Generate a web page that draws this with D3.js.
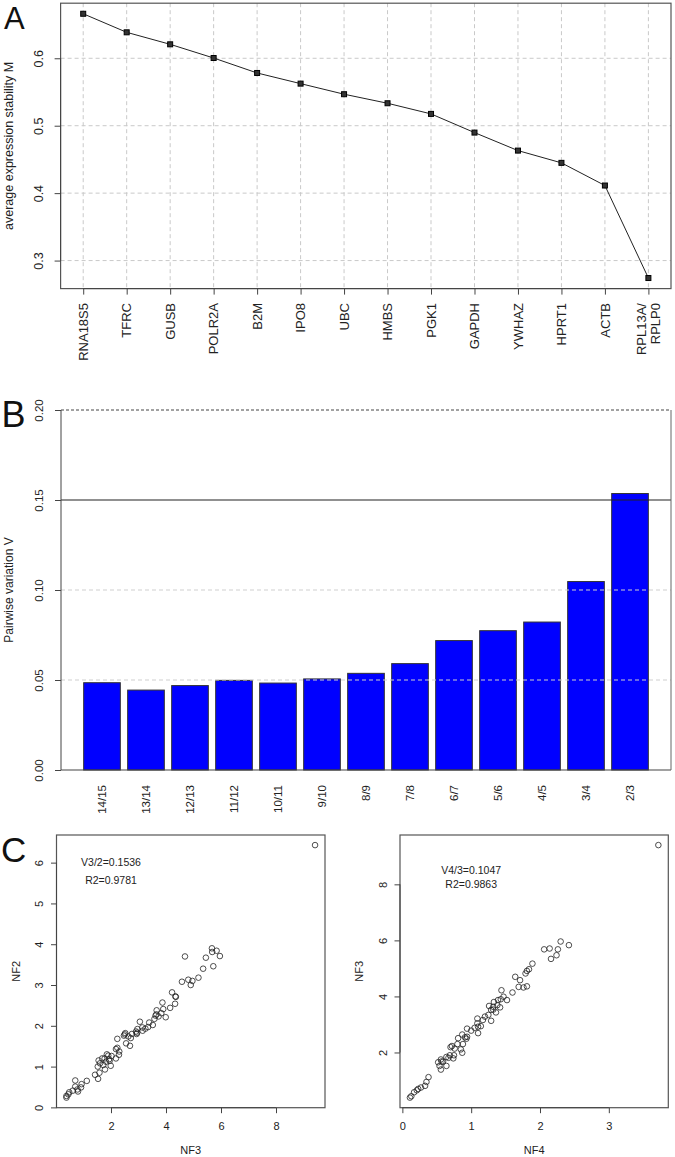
<!DOCTYPE html>
<html><head><meta charset="utf-8">
<script src="https://cdn.jsdelivr.net/npm/d3@7"></script>
<style>
html,body{margin:0;padding:0;background:#fff;}
svg{display:block;font-family:"Liberation Sans",Arial,sans-serif;}
</style></head>
<body>
<svg id="chart" width="675" height="1157"></svg>
<script>
// ---------- DATA ----------
const genes = [["RNA18S5"],["TFRC"],["GUSB"],["POLR2A"],["B2M"],["IPO8"],["UBC"],["HMBS"],["PGK1"],["GAPDH"],["YWHAZ"],["HPRT1"],["ACTB"],["RPL13A/","RPLP0"]];
const stabilityM = [0.666,0.6385,0.6207,0.6004,0.5782,0.5624,0.5467,0.5333,0.5175,0.4898,0.4631,0.4449,0.4113,0.2741];
const aTicks = [0.3,0.4,0.5,0.6];

const pairs = ["14/15","13/14","12/13","11/12","10/11","9/10","8/9","7/8","6/7","5/6","4/5","3/4","2/3"];
const pairwiseV = [0.0485,0.0444,0.0469,0.0498,0.0483,0.0506,0.0537,0.0591,0.0719,0.0774,0.0822,0.1047,0.1536];
const bTicks = [0,0.05,0.10,0.15,0.20];
const bTickLabels = ["0.00","0.05","0.10","0.15","0.20"];
const bCutoff = 0.15;

// NF3 (x) vs NF2 (y)
const nf3nf2 = [[9.42,6.43],[4.69,3.70],[5.67,3.90],[5.68,3.81],[5.84,3.84],[5.96,3.71],[5.45,3.67],[5.72,3.46],[5.35,3.40],[5.18,3.18],[4.58,3.08],[4.81,3.13],[4.96,3.10],[4.90,3.00],[4.22,2.82],[4.34,2.72],[4.36,2.71],[4.33,2.54],[4.15,2.44],[3.87,2.57],[3.90,2.41],[3.99,2.21],[3.83,2.31],[3.66,2.38],[3.62,2.25],[3.65,2.28],[3.58,2.17],[3.73,2.23],[3.39,2.08],[3.52,2.02],[3.35,1.97],[3.25,1.93],[3.05,2.10],[3.14,1.96],[3.15,1.88],[2.96,1.92],[2.91,1.86],[2.93,1.80],[2.95,1.83],[2.76,1.80],[2.72,1.70],[2.69,1.51],[2.55,1.57],[2.52,1.82],[2.50,1.79],[2.47,1.76],[2.63,1.74],[2.23,1.68],[2.18,1.43],[2.23,1.46],[2.30,1.37],[2.29,1.29],[2.18,1.20],[2.02,1.26],[1.99,1.02],[1.93,1.18],[1.95,1.14],[1.90,1.27],[1.85,1.30],[1.82,1.12],[1.77,1.20],[1.68,1.20],[1.72,1.04],[1.78,0.93],[1.60,1.08],[1.55,1.15],[1.52,1.00],[1.58,0.85],[1.53,0.70],[1.42,0.80],[1.12,0.65],[0.93,0.57],[0.91,0.49],[0.78,0.44],[0.70,0.66],[0.70,0.51],[0.80,0.39],[0.61,0.41],[0.48,0.37],[0.45,0.32],[0.38,0.28],[0.38,0.24]];
const cLeftXTicks = [2,4,6,8];
const cLeftYTicks = [0,1,2,3,4,5,6];
const cLeftText = ["V3/2=0.1536","R2=0.9781"];

// NF4 (x) vs NF3 (y)
const nf4nf3 = [[3.72,9.40],[2.42,5.83],[2.30,5.96],[2.26,5.68],[2.24,5.47],[2.16,5.34],[2.14,5.71],[2.06,5.68],[1.89,5.17],[1.84,4.97],[1.81,4.91],[1.79,4.82],[1.81,4.36],[1.76,4.32],[1.69,4.34],[1.71,4.58],[1.64,4.70],[1.60,4.14],[1.52,3.87],[1.47,3.99],[1.44,4.22],[1.43,3.90],[1.39,3.87],[1.42,3.61],[1.38,3.69],[1.36,3.43],[1.33,3.80],[1.32,3.63],[1.32,3.53],[1.29,3.52],[1.26,3.66],[1.29,3.13],[1.25,3.34],[1.20,3.28],[1.17,3.16],[1.14,2.94],[1.10,2.92],[1.09,3.21],[1.09,3.04],[1.10,2.69],[1.05,2.88],[1.00,2.78],[0.94,2.85],[0.94,2.56],[0.93,2.49],[0.91,2.54],[0.88,2.30],[0.87,2.64],[0.87,1.99],[0.85,2.11],[0.81,2.51],[0.80,2.30],[0.76,2.14],[0.72,2.23],[0.70,2.19],[0.75,1.90],[0.74,1.79],[0.69,1.90],[0.67,1.81],[0.64,1.84],[0.64,1.52],[0.59,1.67],[0.57,1.68],[0.56,1.75],[0.52,1.65],[0.54,1.52],[0.56,1.39],[0.38,1.12],[0.35,0.95],[0.33,0.81],[0.27,0.75],[0.23,0.70],[0.21,0.65],[0.17,0.58],[0.13,0.44],[0.11,0.39]];
const cRightXTicks = [0,1,2,3];
const cRightYTicks = [2,4,6,8];
const cRightText = ["V4/3=0.1047","R2=0.9863"];

// ---------- HELPERS ----------
const svg = d3.select("#chart");
svg.append("rect").attr("width",675).attr("height",1157).attr("fill","#fff");
const FONT = '"Liberation Sans",Arial,sans-serif';
function padDomain(ext){ const r = ext[1]-ext[0]; return [ext[0]-0.04*r, ext[1]+0.04*r]; }

function yAxisRotated(g, scale, ticks, labels, x0, offset, size, tickLen){
  const ax = d3.axisLeft(scale).tickValues(ticks).tickSize(tickLen).tickSizeOuter(0)
    .tickFormat((d,i)=> labels ? labels[i] : String(d));
  const a = g.append("g").attr("transform",`translate(${x0},0)`).call(ax);
  a.select(".domain").remove();
  a.selectAll(".tick line").attr("stroke","#444");
  a.selectAll(".tick text").attr("x",0).attr("y",0).attr("dy",null)
    .attr("text-anchor","middle").attr("fill","#222")
    .style("font-size",size+"px").style("font-family",FONT)
    .attr("transform",`translate(${offset},0) rotate(-90)`);
  g.append("line").attr("x1",x0).attr("x2",x0)
    .attr("y1",scale(d3.min(ticks))).attr("y2",scale(d3.max(ticks))).attr("stroke","#444");
  return a;
}

// ---------- PANEL A ----------
(function(){
  const left=60.6, right=671, top=3.2, bottom=288.6;
  const x = d3.scaleLinear().domain(padDomain([1,genes.length])).range([left,right]);
  const y = d3.scaleLinear().domain(padDomain(d3.extent(stabilityM))).range([bottom,top]);
  const g = svg.append("g");
  g.selectAll(".vg").data(genes).join("line")
    .attr("x1",(d,i)=>x(i+1)).attr("x2",(d,i)=>x(i+1)).attr("y1",top).attr("y2",bottom)
    .attr("stroke","#c9c9c9").attr("stroke-dasharray","4,3");
  g.selectAll(".hg").data(aTicks).join("line")
    .attr("x1",left).attr("x2",right).attr("y1",d=>y(d)).attr("y2",d=>y(d))
    .attr("stroke","#c9c9c9").attr("stroke-dasharray","4,3");
  g.append("rect").attr("x",left).attr("y",top).attr("width",right-left).attr("height",bottom-top)
    .attr("fill","none").attr("stroke","#555").attr("stroke-width",1.2);
  g.append("path").datum(stabilityM)
    .attr("d",d3.line().x((d,i)=>x(i+1)).y(d=>y(d)))
    .attr("fill","none").attr("stroke","#222").attr("stroke-width",1);
  g.selectAll(".pt").data(stabilityM).join("rect")
    .attr("x",(d,i)=>x(i+1)-2.5).attr("y",d=>y(d)-2.5).attr("width",5).attr("height",5)
    .attr("fill","#333").attr("stroke","#000").attr("stroke-width",1);
  yAxisRotated(g, y, aTicks, aTicks.map(d=>d.toFixed(1)), left, -18, 12.5, 6);
  const xa = d3.axisBottom(x).tickValues(d3.range(1,genes.length+1)).tickSize(6).tickSizeOuter(0).tickFormat("");
  const xg = g.append("g").attr("transform",`translate(0,${bottom})`).call(xa);
  xg.select(".domain").remove();
  xg.selectAll(".tick line").attr("stroke","#444");
  g.append("line").attr("x1",x(1)).attr("x2",x(genes.length)).attr("y1",bottom).attr("y2",bottom).attr("stroke","#444");
  genes.forEach((lines,i)=>{
    const lg = g.append("g").attr("transform",`translate(${x(i+1)},303) rotate(-90)`);
    const n = lines.length;
    lines.forEach((t,j)=>{
      lg.append("text").attr("x",0).attr("y",(j-(n-1)/2)*13.7).attr("dy","0.36em")
        .attr("text-anchor","end").attr("fill","#222")
        .style("font-size","13px").style("font-family",FONT).text(t);
    });
  });
  g.append("text").attr("transform",`translate(12.5,${(top+bottom)/2}) rotate(-90)`)
    .attr("text-anchor","middle").attr("fill","#222").style("font-size","12.5px").style("font-family",FONT)
    .text("average expression stability M");
  svg.append("text").attr("x",4).attr("y",29).attr("fill","#111").style("font-size","31px").style("font-family",FONT).text("A");
})();

// ---------- PANEL B ----------
(function(){
  const left=61, right=671, top=410, bottom=770;
  const x = d3.scaleBand().domain(pairs).range([left,right]).paddingInner(1/6).paddingOuter(0.515);
  const y = d3.scaleLinear().domain([0,0.20]).range([bottom,top]);
  const g = svg.append("g");
  g.selectAll(".bar").data(pairwiseV).join("rect")
    .attr("x",(d,i)=>x(pairs[i])).attr("width",x.bandwidth())
    .attr("y",d=>y(d)).attr("height",d=>y(0)-y(d))
    .attr("fill","#0000ff").attr("stroke","#333").attr("stroke-width",1);
  // dashed grid drawn over the bars, as in the reference
  g.selectAll(".hg").data(bTicks.filter(d=>d>0 && d<0.2 && d!==bCutoff)).join("line")
    .attr("x1",left).attr("x2",right).attr("y1",d=>y(d)).attr("y2",d=>y(d))
    .attr("stroke","#cfcfcf").attr("stroke-dasharray","4,3");
  g.append("line").attr("x1",left).attr("x2",right).attr("y1",y(bCutoff)).attr("y2",y(bCutoff))
    .attr("stroke","#222").attr("stroke-width",1.1);
  g.append("line").attr("x1",left).attr("x2",right).attr("y1",y(0.20)).attr("y2",y(0.20))
    .attr("stroke","#444").attr("stroke-dasharray","3,2");
  g.append("line").attr("x1",left).attr("x2",right).attr("y1",bottom).attr("y2",bottom).attr("stroke","#444").attr("stroke-width",1.2);
  g.append("line").attr("x1",right).attr("x2",right).attr("y1",top).attr("y2",bottom).attr("stroke","#666");
  yAxisRotated(g, y, bTicks, bTickLabels, left, -17.7, 11.5, 6);
  pairs.forEach((p,i)=>{
    g.append("text").attr("transform",`translate(${x(p)+x.bandwidth()/2},785) rotate(-90)`)
      .attr("dy","0.36em").attr("text-anchor","end").attr("fill","#222")
      .style("font-size","11.5px").style("font-family",FONT).text(p);
  });
  g.append("text").attr("transform",`translate(13,${(top+bottom)/2}) rotate(-90)`)
    .attr("text-anchor","middle").attr("fill","#222").style("font-size","12px").style("font-family",FONT)
    .text("Pairwise variation V");
  svg.append("text").attr("x",1.5).attr("y",427).attr("fill","#111").style("font-size","36px").style("font-family",FONT).text("B");
})();

// ---------- PANEL C ----------
function scatter(pts, box, xTicks, yTicks, txt, txtPos, xTitle, yTitle, yOff){
  const x = d3.scaleLinear().domain(padDomain(d3.extent(pts,d=>d[0]))).range([box.left,box.right]);
  const y = d3.scaleLinear().domain(padDomain(d3.extent(pts,d=>d[1]))).range([box.bottom,box.top]);
  const g = svg.append("g");
  g.append("rect").attr("x",box.left).attr("y",box.top).attr("width",box.right-box.left).attr("height",box.bottom-box.top)
    .attr("fill","none").attr("stroke","#555").attr("stroke-width",1.2);
  g.selectAll("circle").data(pts).join("circle")
    .attr("cx",d=>x(d[0])).attr("cy",d=>y(d[1])).attr("r",2.8)
    .attr("fill","none").attr("stroke","#222").attr("stroke-width",0.8);
  yAxisRotated(g, y, yTicks, null, box.left, yOff, 11, 5.5);
  const xa = d3.axisBottom(x).tickValues(xTicks).tickSize(5.5).tickSizeOuter(0).tickPadding(9).tickFormat(d=>String(d));
  const xg = g.append("g").attr("transform",`translate(0,${box.bottom})`).call(xa);
  xg.select(".domain").remove();
  xg.selectAll(".tick line").attr("stroke","#444");
  xg.selectAll(".tick text").attr("fill","#222").style("font-size","11px").style("font-family",FONT);
  g.append("line").attr("x1",x(d3.min(xTicks))).attr("x2",x(d3.max(xTicks))).attr("y1",box.bottom).attr("y2",box.bottom).attr("stroke","#444");
  txt.forEach((t,i)=>{
    g.append("text").attr("x",x(txtPos[i][0])).attr("y",y(txtPos[i][1])).attr("dy","0.36em")
      .attr("text-anchor","middle").attr("fill","#222").style("font-size","10.5px").style("font-family",FONT).text(t);
  });
  g.append("text").attr("x",(box.left+box.right)/2).attr("y",1154).attr("text-anchor","middle")
    .attr("fill","#222").style("font-size","11px").style("font-family",FONT).text(xTitle);
  g.append("text").attr("transform",`translate(${box.left-37},${(box.top+box.bottom)/2}) rotate(-90)`)
    .attr("text-anchor","middle").attr("fill","#222").style("font-size","11px").style("font-family",FONT).text(yTitle);
}
scatter(nf3nf2, {left:56.5,right:325,top:835,bottom:1107.7}, cLeftXTicks, cLeftYTicks,
  cLeftText, [[2,6.0],[2,5.58]], "NF3", "NF2", -14);
scatter(nf4nf3, {left:400,right:668.3,top:835,bottom:1107.7}, cRightXTicks, cRightYTicks,
  cRightText, [[1,8.5],[1,8.0]], "NF4", "NF3", -13.5);
svg.append("text").attr("x",1).attr("y",861.5).attr("fill","#111").style("font-size","35px").style("font-family",FONT).text("C");
</script>
</body></html>
